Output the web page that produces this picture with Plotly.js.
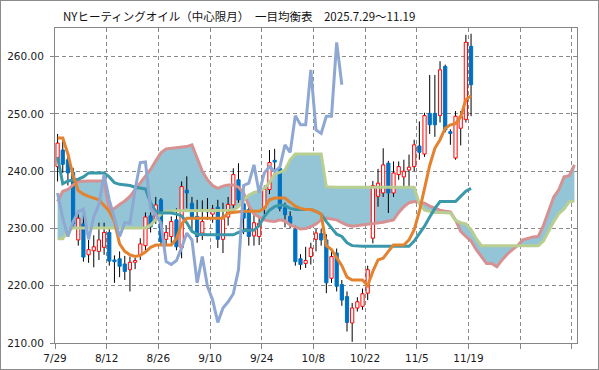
<!DOCTYPE html>
<html><head><meta charset="utf-8">
<script src="https://cdn.plot.ly/plotly-3.0.1.min.js"></script>
<style>
html,body{margin:0;padding:0;background:#fff;}
#chart{width:597px;height:368px;border:1px solid #8c8c8c;}
</style></head><body><div id="chart"></div>
<script>
const titleText = 'NYヒーティングオイル（中心限月）　一目均衡表　2025.7.29～11.19';
const dates = ['7/29','7/30','7/31','8/1','8/4','8/5','8/6','8/7','8/8','8/11',
 '8/12','8/13','8/14','8/15','8/18','8/19','8/20','8/21','8/22','8/25',
 '8/26','8/27','8/28','8/29','9/2','9/3','9/4','9/5','9/8','9/9',
 '9/10','9/11','9/12','9/15','9/16','9/17','9/18','9/19','9/22','9/23',
 '9/24','9/25','9/26','9/29','9/30','10/1','10/2','10/3','10/6','10/7',
 '10/8','10/9','10/10','10/13','10/14','10/15','10/16','10/17','10/20','10/21',
 '10/22','10/23','10/24','10/27','10/28','10/29','10/30','10/31','11/3','11/4',
 '11/5','11/6','11/7','11/10','11/11','11/12','11/13','11/14','11/17','11/18',
 '11/19'];
const open = [240.8,243.7,242.0,239.8,228.0,230.8,225.4,226.1,226.0,226.7,
 229.3,224.5,224.7,223.8,222.8,224.1,225.4,227.0,232.2,231.5,
 235.0,228.1,228.6,231.5,226.6,236.7,234.4,232.1,229.2,233.3,
 232.5,233.7,228.1,232.0,234.1,238.5,234.3,233.3,228.7,228.6,
 233.6,236.8,241.9,240.5,233.6,232.1,229.8,224.7,223.9,225.1,
 228.1,229.1,228.0,221.3,225.7,220.2,218.1,213.5,216.1,216.4,
 218.7,228.3,235.6,236.2,241.4,236.2,239.4,239.0,240.2,240.8,
 244.4,243.0,250.1,250.1,249.7,258.3,246.9,242.3,247.5,249.0,
 261.8];
const high = [246.5,245.3,242.8,240.6,233.2,232.8,228.0,228.8,231.0,231.0,
 230.2,225.3,226.0,225.2,225.1,224.9,228.3,232.8,232.8,235.5,
 235.3,230.6,232.1,233.5,238.2,239.1,235.5,235.0,234.9,235.3,
 234.1,235.0,234.5,235.5,240.5,241.4,235.0,234.0,232.5,232.0,
 237.5,243.7,243.9,241.0,234.5,233.0,230.5,225.5,226.8,227.5,
 229.9,229.9,229.0,226.0,226.5,221.0,219.0,217.0,218.0,219.5,
 223.5,238.3,240.4,244.0,241.8,241.7,241.7,242.0,242.9,245.5,
 248.7,250.2,256.8,256.8,259.2,258.6,247.3,250.5,250.5,263.8,
 264.0];
const low = [238.2,239.7,237.5,230.0,227.0,224.2,224.0,223.2,224.5,225.4,
 223.5,220.5,221.5,221.0,219.0,222.9,224.5,226.1,229.3,230.8,
 227.0,226.9,227.4,226.2,224.8,233.5,229.8,227.5,228.0,231.5,
 231.0,226.6,225.7,230.5,233.5,234.5,229.0,227.0,227.0,227.1,
 232.5,236.0,240.0,233.0,230.2,230.0,223.5,222.8,223.1,223.7,
 226.0,227.0,218.7,220.5,219.0,216.5,212.0,210.2,215.5,215.8,
 217.5,227.4,233.8,235.5,232.7,235.5,238.5,237.3,237.3,240.0,
 242.0,242.5,246.5,246.0,248.5,246.8,244.6,242.0,244.5,248.5,
 249.6];
const close = [244.9,241.2,239.7,230.8,231.8,225.0,226.3,226.8,228.0,229.3,
 224.3,224.2,223.4,222.5,224.1,224.4,227.3,232.0,230.3,234.1,
 227.7,229.3,231.2,226.8,237.3,236.2,231.8,228.6,231.2,232.9,
 233.4,228.1,232.0,234.2,239.4,235.0,231.8,228.6,231.0,230.9,
 236.8,241.5,241.6,233.5,232.4,230.9,224.2,223.7,224.4,226.6,
 229.2,228.0,220.5,225.1,219.9,217.5,213.6,216.1,217.2,218.6,
 222.8,237.5,237.9,241.1,236.2,239.7,240.8,240.0,240.7,244.6,
 243.3,249.7,248.1,248.1,257.7,247.2,246.6,249.6,249.6,262.5,
 255.1];
const tenkan = [242.5,237.8,238.3,238.5,238.6,239.0,239.7,239.7,239.7,239.7,
 239.0,238.0,237.7,237.6,237.5,237.2,237.0,236.9,234.5,233.0,
 232.7,232.7,232.7,232.5,232.2,231.0,229.5,229.0,228.9,228.9,
 228.9,228.9,228.9,228.9,228.9,229.3,229.6,229.7,229.7,230.5,
 232.1,233.2,233.8,234.1,234.0,233.5,233.3,233.3,233.3,233.3,
 233.0,232.5,231.2,230.0,229.0,228.6,227.5,227.0,226.9,226.9,
 226.9,226.9,226.9,226.9,226.9,226.9,226.9,226.9,226.9,227.8,
 229.0,230.4,232.0,233.5,234.7,234.7,234.7,234.7,235.6,236.5,
 237.0];
const kijun = [245.8,245.8,243.0,239.2,236.6,236.0,235.6,235.3,235.0,234.0,
 233.0,231.2,227.3,226.0,225.4,225.1,225.3,225.9,226.7,227.1,
 227.1,227.1,227.1,228.2,230.8,231.8,231.8,231.8,231.8,231.8,
 231.8,231.8,231.8,232.7,232.8,233.0,233.0,233.0,233.0,233.0,
 233.5,235.0,235.3,235.3,235.3,234.6,233.9,233.5,233.3,233.3,
 233.0,232.5,227.0,226.3,225.0,223.5,221.5,221.0,221.0,221.0,
 220.0,222.5,224.5,224.8,226.0,227.1,227.1,227.1,228.0,229.8,
 233.0,237.0,241.0,244.0,245.5,247.5,248.1,248.3,249.5,252.5,
 253.2];
const senkouA = [228.2,228.2,229.6,230.1,230.1,230.1,230.1,230.1,230.1,230.1,
 230.1,230.1,230.1,230.1,230.1,230.1,230.1,230.1,230.6,231.6,
 232.5,233.0,233.1,233.1,233.1,233.1,233.1,233.1,233.1,233.1,
 233.1,233.1,233.1,233.1,233.2,233.8,235.0,235.8,236.3,236.5,
 237.0,238.0,239.5,239.8,240.2,242.0,243.0,243.0,243.0,243.0,
 243.0,243.0,237.3,237.2,237.2,237.2,237.2,237.2,237.2,237.2,
 237.2,237.2,237.2,237.2,237.2,237.2,237.2,237.2,237.2,237.2,
 234.3,233.2,233.0,232.8,232.8,232.7,232.7,231.4,231.0,230.8,
 229.8,228.2,227.0,227.0,227.0,227.0,227.0,227.0,227.0,227.0,
 227.0,227.0,227.0,227.0,227.8,229.5,231.2,232.6,233.4,234.7,
 234.8];
const senkouB = [234.7,236.5,236.8,237.6,238.2,238.3,238.3,238.3,238.3,238.3,
 233.3,233.5,234.2,234.8,235.6,236.8,238.0,239.3,240.3,241.8,
 243.2,243.9,244.0,244.1,244.2,244.3,244.6,242.3,240.0,238.5,
 237.5,237.0,237.4,237.6,237.6,237.2,236.2,234.0,232.5,232.0,
 231.5,231.3,231.2,231.5,231.3,230.6,230.2,229.9,230.0,230.3,
 230.8,231.5,231.8,231.6,231.5,231.0,230.6,230.4,230.5,230.6,
 230.7,230.8,230.9,231.1,231.3,231.5,232.8,233.8,234.5,234.7,
 234.6,234.4,233.9,233.5,233.2,233.0,232.9,231.5,229.5,228.6,
 227.8,226.3,225.0,223.9,223.9,223.3,224.5,225.5,226.3,227.0,
 228.0,228.3,228.5,228.6,230.5,233.0,235.5,236.8,239.0,239.2,
 241.1];
const chikou = [236.2,231.8,228.6,231.2,232.9,233.4,228.1,232.0,234.2,239.4,
 235.0,231.8,228.6,231.0,230.9,236.8,241.5,241.6,233.5,232.4,
 230.9,224.2,223.7,224.4,226.6,229.2,228.0,220.5,225.1,219.9,
 217.5,213.6,216.1,217.2,218.6,222.8,237.5,237.9,241.1,236.2,
 239.7,240.8,240.0,240.7,244.6,243.3,249.7,248.1,248.1,257.7,
 247.2,246.6,249.6,249.6,262.5,255.1];

const C = {cloud:'#93C5D6', spanB:'#D69192', spanA:'#B9CF91', tenkan:'#3A98AA',
  kijun:'#E3822F', chikou:'#8EA8D3', down:'#0070C0', up:'#FF0000'};

const idx = n => Array.from({length:n}, (_, i) => i);
const xCloud = idx(senkouA.length);

// wicks
const wx = [], wy = [];
for (let i = 0; i < close.length; i++) { wx.push(i, i, null); wy.push(low[i], high[i], null); }
// bodies
const HW = 0.31;
function bodies(up) {
  const xs = [], ys = [];
  for (let i = 0; i < close.length; i++) {
    const isUp = close[i] >= open[i];
    if (isUp !== up) continue;
    let top = Math.max(open[i], close[i]), bot = Math.min(open[i], close[i]);
    if (top - bot < 0.12) { top += 0.06; bot -= 0.06; }
    xs.push(i - HW, i + HW, i + HW, i - HW, i - HW, null);
    ys.push(bot, bot, top, top, bot, null);
  }
  return {xs, ys};
}
const ub = bodies(true), db = bodies(false);

const traces = [
  {x: xCloud, y: senkouB, mode:'lines', line:{width:0, color:C.spanB}, hoverinfo:'skip'},
  {x: xCloud, y: senkouA, mode:'lines', line:{width:0, color:C.spanA}, fill:'tonexty', fillcolor:C.cloud, hoverinfo:'skip'},
  {x: wx, y: wy, mode:'lines', line:{width:1, color:'#000'}, hoverinfo:'skip'},
  {x: ub.xs, y: ub.ys, mode:'lines', fill:'toself', fillcolor:'#ffffff', line:{width:1, color:C.up}, hoverinfo:'skip'},
  {x: db.xs, y: db.ys, mode:'lines', fill:'toself', fillcolor:C.down, line:{width:1, color:C.down}, hoverinfo:'skip'},
  {x: xCloud, y: senkouB, mode:'lines', line:{width:3, color:C.spanB}},
  {x: xCloud, y: senkouA, mode:'lines', line:{width:3, color:C.spanA}},
  {x: idx(tenkan.length), y: tenkan, mode:'lines', line:{width:3, color:C.tenkan}},
  {x: idx(kijun.length), y: kijun, mode:'lines', line:{width:3, color:C.kijun}},
  {x: idx(chikou.length), y: chikou, mode:'lines', line:{width:3, color:C.chikou}}
];

const tickvals = [], ticktext = [];
for (let k = 0; k <= 100; k += 10) { tickvals.push(k - 0.5); ticktext.push(dates[k] || ''); }

const tickFont = {family:'DejaVu Sans, sans-serif', size:10.5, color:'#1a1a1a'};
const layout = {
  width:597, height:368,
  margin:{l:54, r:21, t:27, b:26},
  paper_bgcolor:'#fff', plot_bgcolor:'#fff',
  showlegend:false,
  title:{text:titleText, x:62/597, xanchor:'left', y:1-16/368, yanchor:'middle',
    font:{family:'Noto Sans CJK JP, sans-serif', size:11.5, color:'#111'}},
  xaxis:{type:'linear', range:[-0.5, 100.5], tickvals:tickvals, ticktext:ticktext,
    ticks:'outside', ticklen:5, tickcolor:'#868686', tickwidth:1,
    showgrid:true, gridcolor:'#8a8a8a', gridwidth:1, griddash:'4px,3px',
    showline:true, linecolor:'#868686', linewidth:1, mirror:true, zeroline:false,
    ticklabelshift:2.6, tickfont:tickFont},
  yaxis:{range:[210, 265], tick0:210, dtick:10, tickformat:'.2f',
    ticks:'outside', ticklen:4, tickcolor:'#868686', tickwidth:1,
    showgrid:true, gridcolor:'#8a8a8a', gridwidth:1, griddash:'4px,3px',
    showline:true, linecolor:'#868686', linewidth:1, mirror:true, zeroline:false,
    ticklabelstandoff:4, tickfont:tickFont}
};
Plotly.newPlot('chart', traces, layout, {staticPlot:true, displayModeBar:false});
</script></body></html>
